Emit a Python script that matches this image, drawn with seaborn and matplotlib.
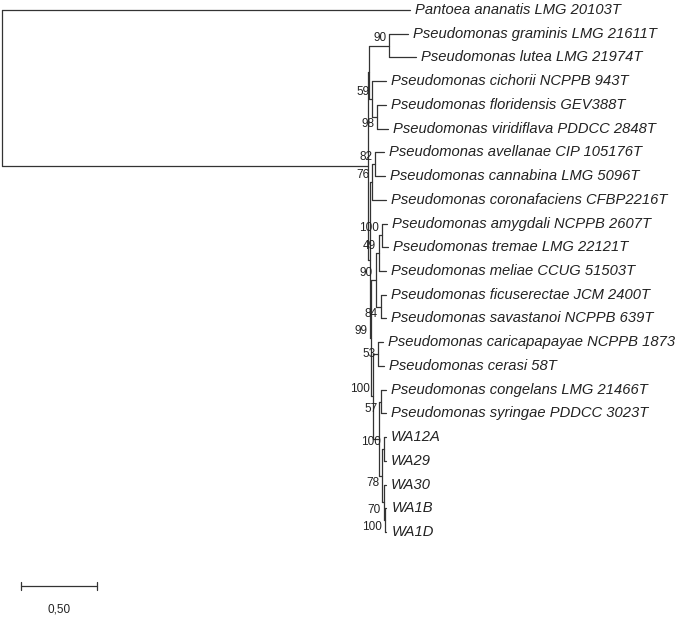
import matplotlib
matplotlib.use("Agg")
import matplotlib.pyplot as plt
import seaborn as sns

sns.set_style("white")
plt.rcParams['font.family'] = ['Liberation Sans', 'DejaVu Sans']

# tips in drawing order (top to bottom)
tips = ["Pantoea ananatis LMG 20103T", "Pseudomonas graminis LMG 21611T",
        "Pseudomonas lutea LMG 21974T", "Pseudomonas cichorii NCPPB 943T",
        "Pseudomonas floridensis GEV388T", "Pseudomonas viridiflava PDDCC 2848T",
        "Pseudomonas avellanae CIP 105176T", "Pseudomonas cannabina LMG 5096T",
        "Pseudomonas coronafaciens CFBP2216T", "Pseudomonas amygdali NCPPB 2607T",
        "Pseudomonas tremae LMG 22121T", "Pseudomonas meliae CCUG 51503T",
        "Pseudomonas ficuserectae JCM 2400T", "Pseudomonas savastanoi NCPPB 639T",
        "Pseudomonas caricapapayae NCPPB 1873", "Pseudomonas cerasi 58T",
        "Pseudomonas congelans LMG 21466T", "Pseudomonas syringae PDDCC 3023T",
        "WA12A", "WA29", "WA30", "WA1B", "WA1D"]

# tree: node name, parent, branch length, bootstrap
nodes = ["root", "A", "X", "G", "C", "E", "Y", "F76", "F82", "H", "I", "K", "M",
         "L", "J", "N", "P", "O", "W78", "Wa", "W70", "Wb"]
parents = [None, "root", "A", "X", "X", "C", "A", "Y", "F76", "Y", "H", "I", "K",
           "I", "H", "J", "J", "P", "P", "W78", "W78", "W70"]
lengths = [0.0, 2.408, 0.007, 0.132, 0.020, 0.033, 0.010, 0.017, 0.020, 0.007,
           0.036, 0.020, 0.020, 0.033, 0.017, 0.033, 0.036, 0.016, 0.023, 0.010,
           0.010, 0.007]
support = [None, None, None, "90", "59", "98", None, "76", "82", "99", "90", "49",
           "100", "84", "100", "53", None, "57", "78", "100", "70", "100"]
# where the bootstrap value sits relative to its node: a=above, b=below, c=centre
label_side = ["a", "a", "a", "a", "a", "b", "a", "a", "a", "a", "a", "a", "a",
              "b", "a", "c", "a", "b", "b", "a", "b", "b"]

tip_parent = ["root", "G", "G", "C", "E", "E", "F82", "F82", "F76", "M", "M", "K",
              "L", "L", "N", "N", "O", "O", "Wa", "Wa", "W70", "Wb", "Wb"]
tip_length = [2.684, 0.125, 0.178, 0.092, 0.059, 0.072, 0.059, 0.066, 0.092, 0.033,
              0.039, 0.046, 0.033, 0.033, 0.033, 0.039, 0.033, 0.033, 0.016, 0.016,
              0.016, 0.010, 0.010]

# compute coordinates
xpos = {"root": 0.0}
for n, p, bl in zip(nodes, parents, lengths):
    if p is not None:
        xpos[n] = xpos[p] + bl
children = {n: [] for n in nodes}
for n, p in zip(nodes, parents):
    if p is not None:
        children[p].append(n)
tip_x, tip_y = [], []
for i, (t, p, bl) in enumerate(zip(tips, tip_parent, tip_length)):
    tip_x.append(xpos[p] + bl)
    tip_y.append(i)
    children[p].append(("tip", i))

ypos = {}
def get_y(c):
    if isinstance(c, tuple):
        return tip_y[c[1]]
    if c not in ypos:
        ys = [get_y(k) for k in children[c]]
        ypos[c] = (min(ys) + max(ys)) / 2
    return ypos[c]
get_y("root")

fig = plt.figure(figsize=(6.85, 6.19), dpi=100)
ax = fig.add_axes([0, 0, 1, 1])
px = 152.0
ax.set_xlim(-2 / px, 683 / px)
ax.set_ylim((619 - 10) / 23.73, -10 / 23.73)
ax.axis("off")

lc = "#333333"
lw = 0.9
# horizontal branches
for n, p in zip(nodes, parents):
    if p is not None:
        ax.plot([xpos[p], xpos[n]], [ypos[n], ypos[n]], color=lc, lw=lw)
for i, p in enumerate(tip_parent):
    ax.plot([xpos[p], tip_x[i]], [tip_y[i], tip_y[i]], color=lc, lw=lw)
# vertical connectors
for n in nodes:
    ys = [get_y(k) for k in children[n]]
    ax.plot([xpos[n], xpos[n]], [min(ys), max(ys)], color=lc, lw=lw)

# tip labels
for t, x, y in zip(tips, tip_x, tip_y):
    ax.text(x + 5 / px, y, t, fontsize=10.6, style="italic", va="center",
            ha="left", color="#222222")

# bootstrap values
for n, s, side in zip(nodes, support, label_side):
    if s:
        if side == "a":
            yy, va = ypos[n] - 0.05, "bottom"
        elif side == "b":
            yy, va = ypos[n] + 0.05, "top"
        else:
            yy, va = ypos[n], "center"
        ax.text(xpos[n] - 3 / px, yy, s, fontsize=8.5, ha="right",
                va=va, color="#222222")

# scale bar
sb_x0 = 0.125
sb_len = 0.50
sb_y = 24.27
ax.plot([sb_x0, sb_x0 + sb_len], [sb_y, sb_y], color=lc, lw=lw)
for xx in [sb_x0, sb_x0 + sb_len]:
    ax.plot([xx, xx], [sb_y - 0.17, sb_y + 0.17], color=lc, lw=lw)
ax.text(sb_x0 + sb_len / 2, sb_y + 1.0, "0,50", fontsize=8.5, ha="center",
        va="center", color="#222222")

fig.savefig("out.png", dpi=100)
